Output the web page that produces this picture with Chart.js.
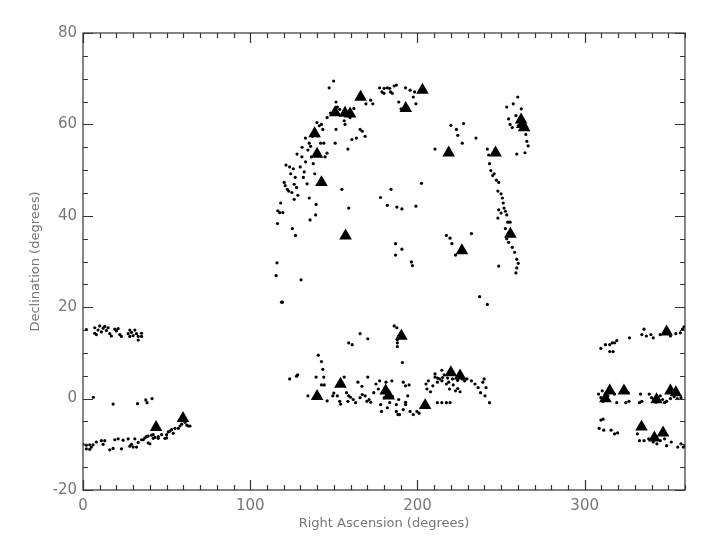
<!DOCTYPE html>
<html><head><meta charset="utf-8">
<script src="https://cdn.jsdelivr.net/npm/chart.js@4/dist/chart.umd.min.js"></script>
<style>html,body{margin:0;padding:0;background:#fff}canvas{display:block}</style>
</head><body>
<canvas id="c" width="705" height="545"></canvas>
<script>
// ---- axis ticks ----
const xTicks = [0, 100, 200, 300];
const yTicks = [-20, 0, 20, 40, 60, 80];

// ---- small dots, [Right Ascension, Declination] ----
const dotsLeftNorth = [[2,15.1],[7,14.3],[7,15.5],[8,14.0],[9,15.0],[10,15.9],[11,14.6],[12,15.4],[13,15.8],[14,14.9],[15,15.5],[16,14.2],[17,13.7],[19,15.2],[20,14.8],[21,15.3],[22,14.0],[23,13.6],[27,14.2],[28,15.0],[28,13.6],[29,14.5],[30,13.8],[31,15.0],[32,14.2],[33,13.6],[33,12.8],[35,14.3],[35,13.6]];
const dotsLeftZero = [[6.2,0.3],[18,-1.2],[32.6,-1.1],[37.5,-0.3],[38.3,-0.9],[41.3,0.0]];
const dotsLeftSouth = [[0,-10.0],[2,-10.2],[4,-10.1],[6,-10.1],[2,-11.0],[4,-11.1],[5,-10.6],[8,-9.5],[11,-9.2],[12,-10.0],[13,-9.2],[16,-11.2],[18,-10.9],[19,-9.0],[21,-8.8],[23,-11.0],[24,-9.1],[27,-8.8],[28,-10.4],[29,-10.0],[30,-10.6],[31,-8.8],[32,-10.6],[33,-9.6],[35,-9.0],[36,-9.0],[37,-8.6],[38,-8.3],[39,-9.7],[40,-9.9],[41,-8.0],[42,-7.9],[43,-8.5],[45,-8.3],[47,-7.9],[49,-8.7],[50,-7.9],[51,-7.3],[52,-7.1],[53,-6.8],[54,-7.6],[55,-6.5],[57,-6.5],[58,-6.0],[59,-5.6],[61,-5.2],[62,-5.8],[63,-6.0],[64,-6.0],[39,-8.2],[42,-8.7],[45,-8.7],[50,-8.6]];
const dotsNorthArc = [[115.5,26.9],[116,29.7],[118.7,21.1],[119.3,21.1],[116.3,38.3],[116.5,41.1],[117.6,40.7],[119.5,40.7],[118.2,42.8],[120.3,47.3],[120.9,46.6],[121.4,51.1],[123.6,50.7],[122.2,45.8],[123,45.4],[124.9,45.1],[124.2,49.2],[125.8,50.3],[126.3,46.9],[126.9,48.4],[125.2,37.2],[127.1,35.7],[126.3,43.6],[127.7,46.2],[129.9,50.7],[130.9,52.9],[132.3,49.6],[131.8,48.4],[130.4,26.0],[133.1,51.8],[134.5,54.4],[135.3,55.9],[136.1,55.2],[137.2,57.4],[136.6,52.9],[137.7,51.4],[138.6,49.2],[139.4,42.5],[139.1,40.2],[135.8,39.1],[135.3,43.9],[139.9,60.4],[141.3,59.7],[142.6,60.0],[143.4,58.9],[142.1,55.9],[144,55.9],[144.8,52.9],[145.9,53.7],[147.2,68.0],[149.9,69.5],[150.8,55.9],[151.3,58.9],[151.3,64.9],[152.1,63.8],[154.8,45.8],[158.4,54.6],[158.9,41.7],[159.7,61.5],[156.2,60.8],[156.7,60.0],[160.8,56.7],[163.5,57.0],[165.7,58.9],[167,58.5],[168.7,57.4],[169.2,64.5],[172,65.3],[173.3,64.5],[177.4,68.0],[178.8,67.1],[180.1,67.9],[182,68.0],[183.9,67.1],[183.4,67.9],[186.1,68.4],[187.4,68.6],[188.8,64.9],[192.9,68.0],[195.6,67.5],[198.3,67.1],[197.5,66.0],[199.1,64.5],[190.2,63.4],[128,53.5],[131,55],[133,57],[128.5,44.5],[134,47],[140.5,57.5],[146,61.5],[148,62.5],[153.5,63.3],[162,63.5],[180,66.8],[185,66.8]];
const dotsMiddle = [[177.9,44.0],[182,42.3],[184.2,45.8],[187.7,41.9],[190.7,41.5],[199.1,42.1],[202.4,47.1],[186.9,33.9],[186.9,31.4],[190.7,32.7],[196.4,29.9],[197,29.1],[186.1,15.9],[187.7,15.5],[188.8,13.7],[188,12.9],[188,12.2],[188,11.4],[191,7.9],[210.5,54.6],[220,59.8],[223.3,58.9],[224.1,57.6],[226.8,55.9],[227.6,60.2],[235,57.0],[217.3,35.7],[219.5,35.1],[220.6,33.9],[222.8,31.4],[232.3,36.1],[237.2,22.3],[241.8,20.6],[243.1,-0.9],[158.9,12.2],[161,11.8],[165.7,14.2],[170.3,13.1]];
const dotsRightArc = [[241.8,54.6],[242.6,53.3],[243.1,51.4],[243.9,49.9],[245,48.8],[245.9,49.2],[247.2,47.8],[248.6,47.3],[248.1,45.4],[250,44.8],[250.8,43.9],[251.3,42.8],[251.8,41.7],[252.6,41.0],[248.6,41.3],[250,40.6],[248.1,39.5],[253.4,40.2],[254,38.6],[252.6,37.2],[255.4,38.6],[253.4,35.0],[254.5,34.2],[256.7,33.1],[258.1,32.0],[259.4,30.5],[260.3,29.6],[259.4,28.6],[258.9,27.5],[248.6,29.0],[253.4,63.8],[257.3,64.5],[260,66.0],[254.5,61.2],[255.4,60.0],[256.7,59.3],[258.9,61.9],[260.3,59.7],[262.1,63.4],[264.8,57.8],[265.4,56.3],[266.2,55.3],[264.3,53.8],[259.4,53.5]];
const dotsEquator = [[123.6,4.3],[127.7,4.9],[128.4,5.2],[134.5,0.6],[140.7,9.5],[142.6,8.1],[143.4,6.4],[139.4,4.7],[144,4.7],[142.6,3.0],[144.3,3.0],[141,0.2],[149.4,0.6],[152.1,0.6],[153.5,-0.6],[154.1,-1.2],[156.2,4.7],[157.6,1.3],[158.9,0.6],[158.4,-0.6],[161.6,-0.2],[163,-0.9],[165.7,0.2],[167,0.9],[168.7,0.6],[169.8,-0.6],[171.1,-0.2],[173.9,1.3],[175.2,3.2],[176.6,2.1],[177.4,3.9],[178,-1.3],[178.5,-2.8],[180.6,2.4],[180.1,0.2],[182,-2.0],[183.4,-0.9],[188.8,-0.2],[187.4,-1.3],[187.4,-2.8],[189.3,-3.5],[188.3,-3.5],[191.5,-2.4],[192.9,-1.3],[192.9,-0.8],[194.2,0.6],[192.9,2.8],[191.5,3.6],[195,3.0],[195.6,-2.8],[197.5,-3.5],[199.7,-2.8],[201,-3.2],[164.4,3.6],[166.8,2.7],[170.3,4.7],[181.2,3.6],[184.7,3.9],[183.4,1.3],[205.1,3.2],[205.7,2.1],[206.5,3.9],[207.8,1.5],[209.2,2.8],[210.5,4.7],[211.9,3.6],[213.2,4.3],[214.6,3.9],[216,5.2],[217.3,3.2],[218.7,3.6],[219.2,2.1],[221.4,3.0],[222.8,1.7],[224.1,2.2],[225.5,1.5],[226.8,4.3],[228.2,3.9],[229.6,4.3],[232.3,3.9],[234.4,3.2],[236.3,2.4],[237.7,1.3],[239.1,3.6],[239.9,4.3],[241,2.4],[240.4,0.6],[211.9,-0.9],[214.6,-0.9],[217.3,-0.9],[219.5,-0.9],[210.5,5.4],[214.6,6.2],[146,-0.5],[150,1.2],[160,0.3],[172,-0.8],[185,0.5],[212,4.5],[215,4.6],[218,4.5],[221,4.3],[224,4.0]];
const dotsRightZero = [[308.3,1.0],[309.7,0.2],[311,-0.6],[310.5,1.7],[313.8,0.6],[317.9,1.0],[319.2,-0.9],[324.6,-0.9],[326.5,-0.6],[326,1.3],[333.4,1.0],[334.2,-0.6],[332.8,-0.9],[338.6,1.0],[340,0.2],[341.3,-0.2],[343.8,0.2],[345.2,0.6],[346.6,-0.2],[347.8,-0.9],[349,-0.6],[351.3,0.0],[353.5,0.4],[355.4,0.0],[357.6,0.2],[342.7,-0.8]];
const dotsRightNorth = [[309.7,11.0],[312.4,11.8],[315,11.8],[316.5,12.2],[317.9,12.2],[319.2,12.7],[317,10.3],[315,10.3],[326.8,13.3],[334.2,14.0],[335.5,15.2],[336.9,13.7],[339.6,14.0],[341,13.3],[345.2,14.0],[347.8,14.4],[351.3,13.7],[354.5,14.2],[357.2,14.4],[358.5,15.2],[359.4,15.7]];
const dotsRightSouth = [[309.7,-4.7],[311,-4.5],[308.7,-6.5],[311.4,-6.9],[315.8,-6.9],[317.9,-7.7],[319.7,-7.5],[331.5,-7.7],[332.8,-9.2],[335.5,-9.2],[338.3,-8.8],[341,-9.5],[343.2,-9.9],[345.2,-9.2],[347.8,-8.8],[349,-10.3],[351.8,-9.5],[355.7,-10.6],[357.6,-9.9],[359,-10.6],[360,-10.3]];

// ---- triangles, [Right Ascension, Declination] ----
const triangles = [[140,0.5],[154,3.2],[138.5,58],[140,53.5],[142.6,47.3],[150.8,62.6],[156.7,62.5],[159.7,62.3],[166,66],[157,35.6],[193,63.5],[203,67.5],[218.7,53.8],[226.6,32.4],[190.4,13.7],[181,1.7],[182.8,0.6],[204.6,-1.5],[220,5.7],[225.5,5.0],[246.7,53.8],[255.6,36],[262,61],[262.7,60],[263.8,59.3],[43.7,-6.3],[59.8,-4.3],[315,1.7],[312.4,0.0],[323.5,1.7],[334,-6.2],[341.7,-8.6],[346.9,-7.5],[351.3,1.7],[354.5,1.3],[349,14.6],[343,-0.2]];

const toXY = a => a.map(p => ({x: p[0], y: p[1]}));
const allDots = [].concat(dotsLeftNorth, dotsLeftZero, dotsLeftSouth, dotsNorthArc, dotsMiddle, dotsRightArc, dotsEquator, dotsRightZero, dotsRightNorth, dotsRightSouth);

const frameTicks = {
  id: 'frameTicks',
  afterDatasetsDraw(chart) {
    const {ctx, chartArea: a, scales: {x, y}} = chart;
    ctx.save();
    ctx.strokeStyle = '#333';
    ctx.lineWidth = 1.2;
    ctx.strokeRect(a.left, a.top, a.right - a.left, a.bottom - a.top);
    ctx.beginPath();
    for (let v = 0; v <= 360; v += 10) {
      const px = Math.round(x.getPixelForValue(v)) + 0.5;
      const len = (v % 100 === 0) ? 10 : 5;
      ctx.moveTo(px, a.bottom); ctx.lineTo(px, a.bottom - len);
      ctx.moveTo(px, a.top); ctx.lineTo(px, a.top + len);
    }
    for (let v = -20; v <= 80; v += 5) {
      const py = Math.round(y.getPixelForValue(v)) + 0.5;
      const len = (v % 20 === 0) ? 10 : 5;
      ctx.moveTo(a.left, py); ctx.lineTo(a.left + len, py);
      ctx.moveTo(a.right, py); ctx.lineTo(a.right - len, py);
    }
    ctx.stroke();
    ctx.restore();
  }
};

const tickFont = {family: 'DejaVu Sans', size: 15};
const titleFont = {family: 'DejaVu Sans', size: 13};

new Chart(document.getElementById('c'), {
  type: 'scatter',
  data: {
    datasets: [
      {data: toXY(triangles), pointStyle: 'triangle', pointRadius: 7.3, backgroundColor: '#000', borderColor: '#000', borderWidth: 0, order: 0},
      {data: toXY(allDots), pointStyle: 'circle', pointRadius: 1.6, backgroundColor: '#000', borderWidth: 0, order: 1}
    ]
  },
  options: {
    responsive: false,
    animation: false,
    events: [],
    layout: {padding: {left: 0, top: 33, right: 20, bottom: 0}},
    plugins: {legend: {display: false}, tooltip: {enabled: false}},
    scales: {
      x: {
        type: 'linear', min: 0, max: 360,
        afterBuildTicks: s => { s.ticks = xTicks.map(v => ({value: v})); },
        ticks: {font: tickFont, color: '#777', padding: 7, maxRotation: 0},
        grid: {display: false, drawTicks: false},
        border: {display: false},
        title: {display: true, text: 'Right Ascension (degrees)', font: titleFont, color: '#777', padding: {top: 0, bottom: 14}},
        afterFit: s => { s.height = 55; }
      },
      y: {
        type: 'linear', min: -20, max: 80,
        afterBuildTicks: s => { s.ticks = yTicks.map(v => ({value: v})); },
        ticks: {font: tickFont, color: '#777', padding: 6},
        grid: {display: false, drawTicks: false},
        border: {display: false},
        title: {display: true, text: 'Declination (degrees)', font: titleFont, color: '#777', padding: {top: 28, bottom: 0}},
        afterFit: s => { s.width = 83; }
      }
    }
  },
  plugins: [frameTicks]
});
</script>
</body></html>
